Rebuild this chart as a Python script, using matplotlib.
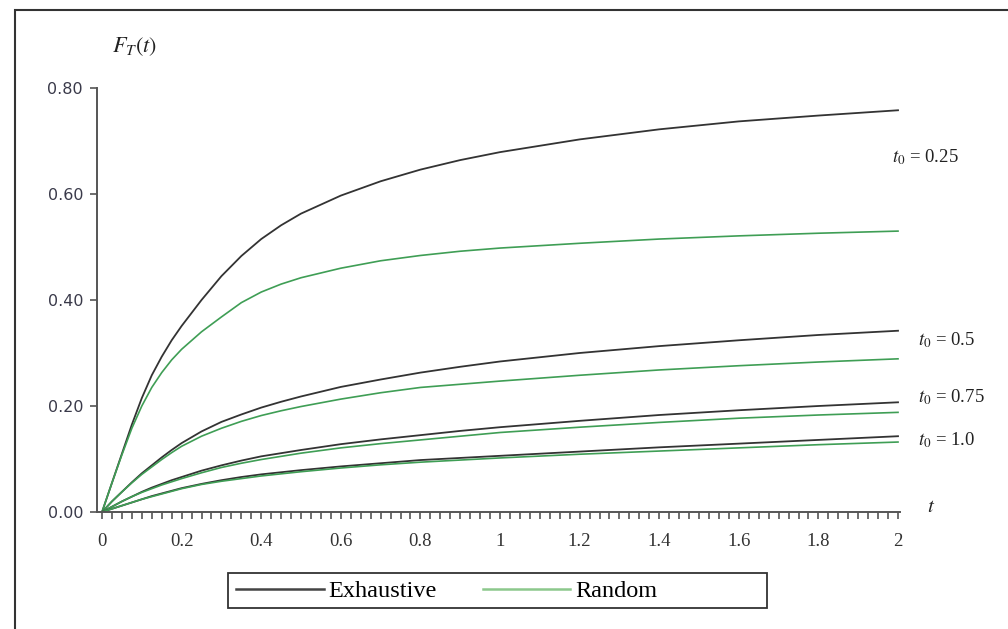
import matplotlib
matplotlib.use("Agg")
import matplotlib.pyplot as plt
from matplotlib.patches import Rectangle
from matplotlib.lines import Line2D
import numpy as np

# values
t = [0, 0.025, 0.05, 0.075, 0.1, 0.125, 0.15, 0.175, 0.2, 0.25, 0.3, 0.35, 0.4, 0.45, 0.5,
     0.6, 0.7, 0.8, 0.9, 1.0, 1.2, 1.4, 1.6, 1.8, 2.0]

exh_025 = [0, 0.055, 0.11, 0.165, 0.215, 0.258, 0.293, 0.324, 0.351, 0.400, 0.445, 0.483, 0.515, 0.541, 0.563,
           0.597, 0.624, 0.646, 0.664, 0.679, 0.703, 0.722, 0.737, 0.748, 0.758]
rnd_025 = [0, 0.055, 0.108, 0.158, 0.200, 0.235, 0.263, 0.287, 0.307, 0.340, 0.368, 0.395, 0.415, 0.430, 0.442,
           0.460, 0.474, 0.484, 0.492, 0.498, 0.507, 0.515, 0.521, 0.526, 0.530]
exh_05 = [0, 0.020, 0.038, 0.056, 0.073, 0.088, 0.103, 0.117, 0.130, 0.152, 0.170, 0.184, 0.197, 0.208, 0.218,
          0.236, 0.250, 0.263, 0.274, 0.284, 0.300, 0.313, 0.324, 0.334, 0.342]
rnd_05 = [0, 0.020, 0.038, 0.055, 0.071, 0.085, 0.099, 0.112, 0.124, 0.143, 0.158, 0.171, 0.182, 0.191, 0.199,
          0.213, 0.225, 0.235, 0.241, 0.247, 0.258, 0.268, 0.276, 0.283, 0.289]
exh_075 = [0, 0.010, 0.020, 0.029, 0.038, 0.046, 0.053, 0.060, 0.066, 0.078, 0.088, 0.097, 0.105, 0.111, 0.117,
           0.128, 0.137, 0.145, 0.153, 0.160, 0.172, 0.183, 0.192, 0.200, 0.207]
rnd_075 = [0, 0.010, 0.020, 0.029, 0.037, 0.044, 0.051, 0.057, 0.063, 0.074, 0.084, 0.092, 0.099, 0.105, 0.111,
           0.121, 0.129, 0.136, 0.143, 0.150, 0.160, 0.169, 0.177, 0.183, 0.188]
exh_10 = [0, 0.006, 0.012, 0.018, 0.024, 0.030, 0.035, 0.040, 0.045, 0.053, 0.060, 0.066, 0.071, 0.075, 0.079,
          0.086, 0.092, 0.098, 0.102, 0.106, 0.114, 0.122, 0.129, 0.136, 0.143]
rnd_10 = [0, 0.006, 0.012, 0.018, 0.024, 0.029, 0.034, 0.039, 0.044, 0.052, 0.058, 0.063, 0.068, 0.072, 0.076,
          0.083, 0.089, 0.094, 0.098, 0.102, 0.109, 0.115, 0.121, 0.127, 0.132]

t0_labels = ["0.25", "0.5", "0.75", "1.0"]
t0_label_pos = [(1.985, 0.670), (2.05, 0.325), (2.05, 0.217), (2.05, 0.136)]

x_ticks = [0, 0.2, 0.4, 0.6, 0.8, 1.0, 1.2, 1.4, 1.6, 1.8, 2.0]
x_ticklabels = ["0", "0.2", "0.4", "0.6", "0.8", "1", "1.2", "1.4", "1.6", "1.8", "2"]
y_ticks = [0, 0.2, 0.4, 0.6, 0.8]
y_ticklabels = ["0.00", "0.20", "0.40", "0.60", "0.80"]

black = "#333333"
green = "#3f9e55"
serif = "Liberation Serif"
plt.rcParams["mathtext.fontset"] = "stix"

W, H = 1008, 629
fig = plt.figure(figsize=(W / 100, H / 100), dpi=100)
ax = fig.add_axes([97 / W, 1 - 512 / H, 803 / W, 424 / H])

# outer frame (cut at right/bottom in the reference)
fig.patches.append(Rectangle((15 / W, -0.1), 1.2, 1.1 - 10 / H, transform=fig.transFigure,
                             fill=False, ec="#333333", lw=1.5))

for exh, rnd in [(exh_025, rnd_025), (exh_05, rnd_05), (exh_075, rnd_075), (exh_10, rnd_10)]:
    ax.plot(t, exh, color=black, lw=1.3)
    ax.plot(t, rnd, color=green, lw=1.2)

ax.set_xlim(-0.0126, 2.005)
ax.set_ylim(0, 0.8)
for s in ["top", "right"]:
    ax.spines[s].set_visible(False)
for s in ["left", "bottom"]:
    ax.spines[s].set_color("#555555")
    ax.spines[s].set_linewidth(1.4)

ax.set_xticks(x_ticks)
ax.set_xticklabels(x_ticklabels, fontfamily=serif, fontsize=13.5, color="#333333")
ax.set_xticks(np.arange(0, 2.0001, 0.025), minor=True)
ax.tick_params(axis="x", which="both", direction="out", length=5, width=1.2, color="#555555", pad=10)
ax.set_yticks(y_ticks)
ax.set_yticklabels(y_ticklabels, fontfamily="DejaVu Sans", fontsize=11.5, color="#3a3a4a")
ax.tick_params(axis="y", direction="out", length=5, width=1.2, color="#555555", pad=5)

for lab, (x, y) in zip(t0_labels, t0_label_pos):
    ax.text(x, y, r"$t_0$ = " + lab, fontfamily=serif, fontsize=13.5, color="#222222",
            ha="left", va="center", clip_on=False)

ax.text(2.072, 0.012, r"$t$", fontsize=15, color="#222222", ha="left", va="center", clip_on=False)
fig.text(112 / W, 1 - 47 / H, r"$F_T(t)$", fontsize=16, color="#222222", ha="left", va="center")

# legend with wide Excel-like box
handles = [Line2D([], [], color="#444444", lw=1.8), Line2D([], [], color="#8cc88c", lw=1.8)]
fig.legend(handles, ["Exhaustive", "Random"], loc="center left",
           bbox_to_anchor=(236 / W, 1 - 591 / H), ncol=2, frameon=False,
           prop={"family": serif, "size": 17.5}, handlelength=3.6, handletextpad=0.2,
           columnspacing=1.9, borderpad=0, borderaxespad=0)
fig.patches.append(Rectangle((228 / W, 1 - 608 / H), 539 / W, 35 / H, transform=fig.transFigure,
                             fill=False, ec="#333333", lw=1.3))

fig.savefig("out.png", dpi=100)
